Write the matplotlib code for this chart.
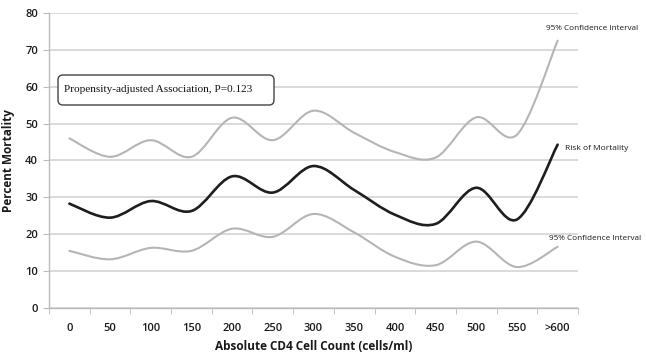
import matplotlib
matplotlib.use("Agg")
import matplotlib.pyplot as plt
from matplotlib.path import Path
from matplotlib.patches import PathPatch, FancyBboxPatch
import numpy as np

categories = ["0", "50", "100", "150", "200", "250", "300", "350", "400", "450", "500", "550", ">600"]
upper_ci = [46, 41, 45.5, 41, 51.6, 45.5, 53.5, 47.5, 42.3, 40.8, 51.7, 47, 72.5]
mortality = [28.3, 24.5, 29, 26.3, 35.7, 31.3, 38.5, 32, 25.3, 22.8, 32.6, 24, 44.3]
lower_ci = [15.5, 13.2, 16.3, 15.5, 21.5, 19.3, 25.5, 20.5, 13.9, 11.6, 18, 11.1, 16.6]
yticks = [0, 10, 20, 30, 40, 50, 60, 70, 80]

plt.rcParams['font.family'] = ['Open Sans', 'DejaVu Sans']

fig = plt.figure(figsize=(6.46, 3.58), dpi=100)
ax = fig.add_axes([0.0759, 0.1397, 0.8188, 0.824])

def smooth_path(xs, ys):
    pts = np.column_stack([xs, ys]).astype(float)
    n = len(pts)
    verts = [pts[0]]
    codes = [Path.MOVETO]
    for i in range(n - 1):
        p0 = pts[i - 1] if i > 0 else pts[i]
        p1 = pts[i]
        p2 = pts[i + 1]
        p3 = pts[i + 2] if i + 2 < n else pts[i + 1]
        c1 = p1 + (p2 - p0) / 6.0
        c2 = p2 - (p3 - p1) / 6.0
        verts += [c1, c2, p2]
        codes += [Path.CURVE4] * 3
    return Path(verts, codes)

x = np.arange(len(categories))
for vals, col, lw in [(upper_ci, '#b5b5b5', 1.5), (lower_ci, '#b5b5b5', 1.5), (mortality, '#1e1e1e', 1.9)]:
    patch = PathPatch(smooth_path(x, vals), facecolor='none', edgecolor=col, lw=lw,
                      capstyle='round', joinstyle='round', zorder=3)
    ax.add_patch(patch)

ax.set_xlim(-0.5, len(categories) - 0.5)
ax.set_ylim(0, 80)
ax.set_yticks(yticks)
ax.set_yticklabels([str(v) for v in yticks], fontsize=8, color='#1a1a1a', fontweight='semibold')
ax.set_xticks(x)
ax.set_xticklabels(categories, fontsize=8, color='#1a1a1a', fontweight='semibold')
ax.set_xticks(np.arange(-0.5, len(categories)), minor=True)
ax.tick_params(axis='x', which='major', length=0, pad=11)
ax.tick_params(axis='x', which='minor', length=4, color='#bbbbbb', direction='out')
ax.tick_params(axis='y', which='major', length=4, color='#bbbbbb', pad=4)
ax.yaxis.grid(True, color='#d4d4d4', lw=1.2)
ax.set_axisbelow(True)
for s in ['top', 'right']:
    ax.spines[s].set_visible(False)
for s in ['left', 'bottom']:
    ax.spines[s].set_color('#bbbbbb')
    ax.spines[s].set_linewidth(1.0)

ax.set_ylabel("Percent Mortality", fontsize=8.5, fontweight='bold', color='#1a1a1a', labelpad=7)
ax.set_xlabel("Absolute CD4 Cell Count (cells/ml)", fontsize=8.5, fontweight='bold', color='#1a1a1a', labelpad=4)

box = FancyBboxPatch((58, 253), 216, 30, boxstyle="round,pad=0,rounding_size=5",
                     transform=None, facecolor='white', edgecolor='#444444', lw=1.0, zorder=5)
fig.patches.append(box)
fig.text(64 / 646, 1 - 89 / 358, "Propensity-adjusted Association, P=0.123",
         fontsize=8.1, family=['Liberation Serif'], color='#111111', va='center', ha='left', zorder=6)

fig.text(546 / 646, 1 - 28 / 358, "95% Confidence Interval", fontsize=5.9, color='#1a1a1a', va='center', ha='left')
fig.text(565 / 646, 1 - 148 / 358, "Risk of Mortality", fontsize=6.0, color='#1a1a1a', va='center', ha='left')
fig.text(549 / 646, 1 - 238 / 358, "95% Confidence Interval", fontsize=5.9, color='#1a1a1a', va='center', ha='left')

fig.savefig("out.png", dpi=100)
